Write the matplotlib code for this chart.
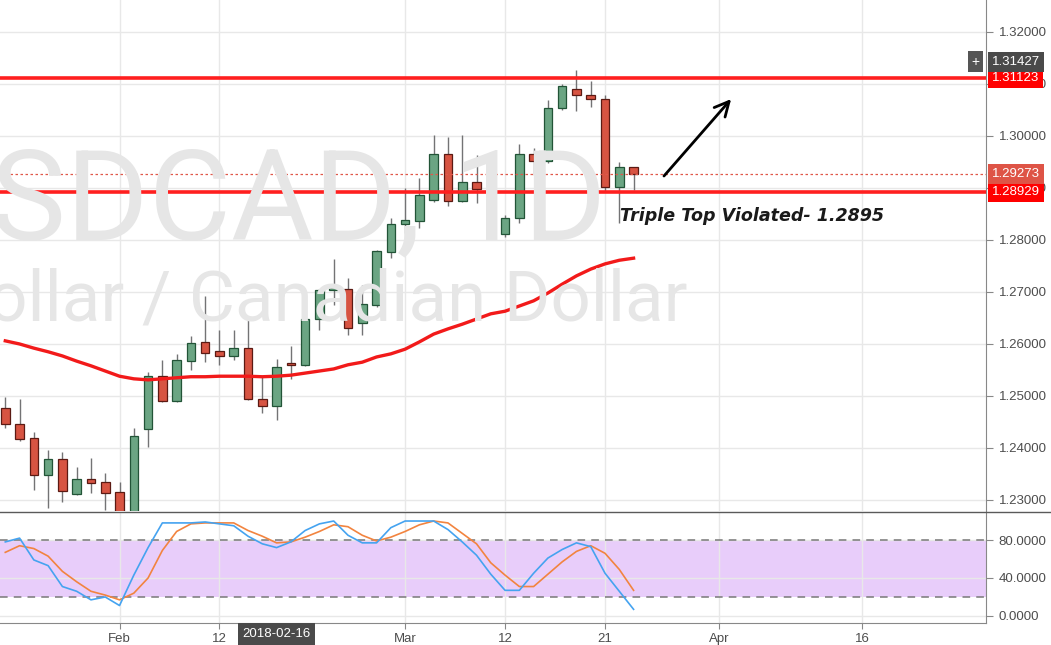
import numpy as np
import pandas as pd
import matplotlib
matplotlib.use("Agg")
import matplotlib.pyplot as plt
from matplotlib.lines import Line2D

plt.rcParams['font.family'] = ['Liberation Sans', 'DejaVu Sans']

# daily USDCAD candles
dates = pd.bdate_range("2018-01-22", "2018-03-23")
opens = [1.2477, 1.2446, 1.2419, 1.2348, 1.2379, 1.2312, 1.2340, 1.2335, 1.2315, 1.2265,
         1.2437, 1.2538, 1.2490, 1.2567, 1.2604, 1.2587, 1.2577, 1.2592, 1.2494, 1.2481,
         1.2563, 1.2560, 1.2648, 1.2704, 1.2706, 1.2640, 1.2675, 1.2777, 1.2831, 1.2837,
         1.2877, 1.2965, 1.2875, 1.2912, 1.2898, 1.2812, 1.2842, 1.2965, 1.2952, 1.3054,
         1.3090, 1.3079, 1.3071, 1.2902, 1.2940]
highs = [1.2498, 1.2494, 1.2431, 1.2396, 1.2392, 1.2363, 1.2381, 1.2352, 1.2335, 1.2438,
         1.2546, 1.2569, 1.2581, 1.2615, 1.2692, 1.2627, 1.2627, 1.2650, 1.2538, 1.2571,
         1.2596, 1.2650, 1.2706, 1.2763, 1.2727, 1.2713, 1.2781, 1.2842, 1.2900, 1.2919,
         1.3002, 1.2998, 1.3002, 1.2963, 1.2910, 1.2848, 1.2985, 1.2977, 1.3069, 1.3100,
         1.3127, 1.3106, 1.3079, 1.2950, 1.2941]
lows = [1.2438, 1.2414, 1.2319, 1.2285, 1.2296, 1.2310, 1.2313, 1.2280, 1.2250, 1.2255,
        1.2402, 1.2488, 1.2488, 1.2550, 1.2565, 1.2560, 1.2569, 1.2492, 1.2467, 1.2454,
        1.2533, 1.2558, 1.2627, 1.2675, 1.2617, 1.2617, 1.2671, 1.2765, 1.2813, 1.2823,
        1.2873, 1.2865, 1.2873, 1.2871, 1.2810, 1.2806, 1.2833, 1.2925, 1.2948, 1.3050,
        1.3048, 1.3056, 1.2894, 1.2833, 1.2896]
closes = [1.2446, 1.2417, 1.2348, 1.2379, 1.2317, 1.2340, 1.2333, 1.2313, 1.2265, 1.2423,
          1.2538, 1.2490, 1.2569, 1.2602, 1.2583, 1.2577, 1.2592, 1.2494, 1.2481, 1.2556,
          1.2560, 1.2648, 1.2704, 1.2707, 1.2631, 1.2677, 1.2779, 1.2831, 1.2838, 1.2887,
          1.2965, 1.2875, 1.2912, 1.2898, 1.2812, 1.2842, 1.2965, 1.2952, 1.3054, 1.3096,
          1.3079, 1.3071, 1.2902, 1.2940, 1.2927]
ma50 = [1.2606, 1.2600, 1.2592, 1.2585, 1.2577, 1.2567, 1.2558, 1.2548, 1.2538, 1.2533,
        1.2531, 1.2533, 1.2535, 1.2537, 1.2537, 1.2538, 1.2538, 1.2538, 1.2537, 1.2538,
        1.2540, 1.2544, 1.2548, 1.2552, 1.2560, 1.2565, 1.2575, 1.2581, 1.2590, 1.2604,
        1.2619, 1.2629, 1.2638, 1.2648, 1.2658, 1.2663, 1.2673, 1.2683, 1.2698, 1.2715,
        1.2731, 1.2744, 1.2754, 1.2761, 1.2765]
stoch_k = [78, 82, 59, 53, 31, 26, 17, 20, 11, 43, 72, 98, 98, 98, 99, 97, 95, 84, 76, 72,
           78, 90, 97, 100, 85, 77, 77, 93, 100, 100, 100, 91, 78, 64, 44, 27, 27, 45, 61, 70,
           77, 73, 45, 26, 7]
stoch_d = [67, 74, 71, 63, 47, 36, 26, 22, 17, 24, 40, 69, 89, 97, 98, 98, 98, 90, 84, 77,
           78, 83, 89, 96, 94, 85, 79, 83, 89, 96, 100, 98, 87, 76, 56, 43, 31, 31, 44, 57,
           68, 74, 66, 49, 27]

resistance = 1.31123
support = 1.28929
last_price = 1.29273
cursor_price = 1.31427
cursor_date = "2018-02-16"
tick_dates = ["2018-02-01", "2018-02-12", "2018-03-01", "2018-03-12", "2018-03-21",
              "2018-04-02", "2018-04-16"]
tick_names = ["Feb", "12", "Mar", "12", "21", "Apr", "16"]
price_ticks = [1.23, 1.24, 1.25, 1.26, 1.27, 1.28, 1.29, 1.30, 1.31, 1.32]

axis_days = pd.bdate_range("2018-01-22", "2018-05-31")
day_index = {d.strftime("%Y-%m-%d"): i for i, d in enumerate(axis_days)}
tick_pos = [day_index[d] for d in tick_dates]

idx = np.arange(len(dates))
o = np.array(opens); c = np.array(closes)
up = c >= o

W, H = 1051, 645
fig = plt.figure(figsize=(W / 100, H / 100), dpi=100)
ax = fig.add_axes([0, 1 - 511 / H, 986 / W, 511 / H])
ax2 = fig.add_axes([0, 1 - 623 / H, 986 / W, 111 / H])

txt_col = '#4d4d4d'
grid_col = '#e8e8e8'

# watermark
fig.text(606 / W, 1 - 239 / H, "USDCAD, 1D", ha='right', va='baseline',
         fontsize=91, color='#e6e6e6', family='Roboto', zorder=0)
fig.text(688 / W, 1 - 321 / H, "US Dollar / Canadian Dollar", ha='right', va='baseline',
         fontsize=51, color='#e6e6e6', family='Roboto', zorder=0)
ax.patch.set_alpha(0)

# candles
ax.vlines(idx, lows, highs, color='#737375', lw=1, zorder=2)
ax.bar(idx, np.maximum(np.abs(c - o), 0.0001), bottom=np.minimum(o, c), width=0.6,
       color=np.where(up, '#6ba583', '#d75442'),
       edgecolor=np.where(up, '#225437', '#5b1a13'), linewidth=0.9, zorder=3)
ax.plot(idx, ma50, color='#f21a1a', lw=2.4, zorder=4)

ax.axhline(resistance, color='#ff1f1f', lw=2.6, zorder=5)
ax.axhline(support, color='#ff1f1f', lw=2.6, zorder=5)
ax.axhline(last_price, color='#e0584a', lw=0.9, ls=(0, (2, 2)), zorder=5)

ax.text(43.05, 1.2837, "Triple Top Violated- 1.2895", family='DejaVu Sans',
        fontweight='bold', style='italic', fontsize=12.6, color='#1a1a1a',
        ha='left', va='baseline', zorder=6)
ax.annotate('', xy=(50.96, 1.3075), xytext=(46.0, 1.2919),
            arrowprops=dict(arrowstyle='->', lw=2, color='black', mutation_scale=26),
            zorder=6)

ax.set_xlim(-0.37, 68.68)
ax.set_ylim(1.22788, 1.32615)
ax.set_yticks(price_ticks)
ax.set_yticklabels(["%.5f" % p for p in price_ticks])
ax.set_xticks(tick_pos)
ax.tick_params(axis='x', bottom=False, labelbottom=False)
ax.yaxis.tick_right()
ax.tick_params(axis='y', colors='#888888', labelcolor=txt_col, labelsize=9.5,
               length=5, width=0.8, pad=4)
ax.grid(True, color=grid_col, lw=1, zorder=0)
for s in ['top', 'left', 'bottom']:
    ax.spines[s].set_visible(False)
ax.spines['right'].set_color('#888888')

# price labels on the scale
box = dict(boxstyle='square,pad=0.32', ec='none')
ax.text(1.006, resistance, "%.5f" % resistance, transform=ax.get_yaxis_transform(),
        ha='left', va='center', color='white', fontsize=9.5, clip_on=False, zorder=7,
        bbox=dict(box, fc='#ff0000'))
ax.text(1.006, support, "%.5f" % support, transform=ax.get_yaxis_transform(),
        ha='left', va='center', color='white', fontsize=9.5, clip_on=False, zorder=7,
        bbox=dict(box, fc='#ff0000'))
ax.text(1.006, last_price, "%.5f" % last_price, transform=ax.get_yaxis_transform(),
        ha='left', va='center', color='white', fontsize=9.5, clip_on=False, zorder=7,
        bbox=dict(box, fc='#de5446'))
ax.text(1.006, cursor_price, "%.5f" % cursor_price, transform=ax.get_yaxis_transform(),
        ha='left', va='center', color='white', fontsize=9.5, clip_on=False, zorder=7,
        bbox=dict(box, fc='#4a4a4a'))
ax.text(0.9895, cursor_price, "+", transform=ax.get_yaxis_transform(),
        ha='center', va='center', color='white', fontsize=10, clip_on=False, zorder=7,
        bbox=dict(boxstyle='square,pad=0.25', fc='#555555', ec='none'))

# stochastic pane
ax2.axhspan(20, 80, color='#e8cdfa', zorder=0, lw=0)
ax2.axhline(80, color='#787878', lw=1.1, ls=(0, (5, 4)), zorder=2)
ax2.axhline(20, color='#787878', lw=1.1, ls=(0, (5, 4)), zorder=2)
ax2.plot(idx, stoch_d, color='#f2843f', lw=1.2, zorder=3)
ax2.plot(idx, stoch_k, color='#45a3f0', lw=1.2, zorder=4)
ax2.set_xlim(-0.37, 68.68)
ax2.set_ylim(-7.4, 109.5)
ax2.set_yticks([0, 40, 80])
ax2.set_yticklabels(["0.0000", "40.0000", "80.0000"])
ax2.yaxis.tick_right()
ax2.tick_params(axis='y', colors='#888888', labelcolor=txt_col, labelsize=9.5,
                length=5, width=0.8, pad=4)
ax2.set_xticks(tick_pos)
ax2.set_xticklabels(tick_names)
ax2.tick_params(axis='x', colors='#888888', labelcolor=txt_col, labelsize=9.5,
                length=4, width=0.8, pad=3)
ax2.grid(True, color=grid_col, lw=1, zorder=0)
for s in ['top', 'left']:
    ax2.spines[s].set_visible(False)
ax2.spines['right'].set_color('#888888')
ax2.spines['bottom'].set_color('#888888')

ax2.text(day_index[cursor_date], -0.1, cursor_date, transform=ax2.get_xaxis_transform(),
         ha='center', va='center', color='white', fontsize=9.5, clip_on=False, zorder=7,
         bbox=dict(boxstyle='square,pad=0.35', fc='#4a4a4a', ec='none'))

sep_y = 1 - 511.5 / H
fig.add_artist(Line2D([0, 1], [sep_y, sep_y], transform=fig.transFigure,
                      color='#5a5a5a', lw=1))

fig.savefig("out.png", dpi=100, facecolor='white')
